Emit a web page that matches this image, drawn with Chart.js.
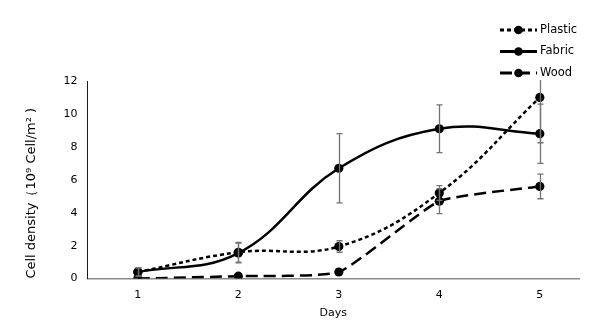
<!DOCTYPE html>
<html>
<head>
<meta charset="utf-8">
<script src="https://cdn.jsdelivr.net/npm/chart.js@4.4.1/dist/chart.umd.min.js"></script>
<style>
  html, body { margin: 0; padding: 0; background: #fff; }
  #wrap { width: 605px; height: 331px; }
</style>
</head>
<body>
<div id="wrap"><canvas id="chart"></canvas></div>
<script>
// values
const days = [1, 2, 3, 4, 5];
const dayLabels = ['1', '2', '3', '4', '5'];
const plastic = [0.4, 1.6, 1.95, 5.2, 11.0];
const fabric = [0.4, 1.55, 6.7, 9.1, 8.8];
const wood = [0.0, 0.15, 0.4, 4.7, 5.6];
// +/- error for each point
const plasticErr = [0.25, 0.6, 0.35, 0.45, 2.75];
const fabricErr = [0.25, 0.6, 2.1, 1.45, 1.8];
const woodErr = [0, 0, 0, 0.75, 0.75];
const yTicks = [0, 2, 4, 6, 8, 10, 12];

const FONT = 'DejaVu Sans, Verdana, sans-serif';

function toPoints(values) {
    return days.map((d, i) => ({ x: d, y: values[i] }));
}

// error bars drawn through the scales
const errorBars = {
    id: 'errorBars',
    afterDatasetsDraw(chart) {
        const ctx = chart.ctx;
        const x = chart.scales.x, y = chart.scales.y;
        const area = chart.chartArea;
        ctx.save();
        ctx.beginPath();
        ctx.rect(area.left, area.top - 1, area.right - area.left, area.bottom - area.top + 2);
        ctx.clip();
        ctx.strokeStyle = '#737373';
        ctx.lineWidth = 1.3;
        chart.data.datasets.forEach(ds => {
            ds.errors.forEach((e, i) => {
                if (!e) return;
                const px = Math.round(x.getPixelForValue(ds.data[i].x)) + 0.5;
                const top = y.getPixelForValue(ds.data[i].y + e);
                const bot = y.getPixelForValue(ds.data[i].y - e);
                ctx.beginPath();
                ctx.moveTo(px, top); ctx.lineTo(px, bot);
                ctx.moveTo(px - 3, top); ctx.lineTo(px + 3, top);
                ctx.moveTo(px - 3, bot); ctx.lineTo(px + 3, bot);
                ctx.stroke();
            });
        });
        ctx.restore();
    }
};

// legend: line sample with a marker in the middle
const lineLegend = {
    id: 'lineLegend',
    afterDraw(chart) {
        const ctx = chart.ctx;
        ctx.save();
        chart.data.datasets.forEach((ds, i) => {
            const yy = 30 + i * 21.5;
            const x0 = 500, x1 = 537;
            ctx.strokeStyle = '#000';
            ctx.lineWidth = 2.8;
            ctx.setLineDash(ds.borderDash || []);
            ctx.beginPath();
            ctx.moveTo(x0, yy); ctx.lineTo(x1, yy);
            ctx.stroke();
            ctx.setLineDash([]);
            ctx.fillStyle = '#000';
            ctx.beginPath();
            ctx.arc((x0 + x1) / 2, yy, 4.3, 0, Math.PI * 2);
            ctx.fill();
            ctx.font = '11.5px ' + FONT;
            ctx.textBaseline = 'middle';
            ctx.fillText(ds.label, 540, yy);
        });
        ctx.restore();
    }
};

const common = {
    borderColor: '#000',
    backgroundColor: '#000',
    pointBackgroundColor: '#000',
    pointBorderColor: '#000',
    pointBorderWidth: 0,
    pointRadius: 4.6,
    pointHoverRadius: 4.6,
    borderWidth: 2.5,
    tension: 0.4,
    fill: false
};

new Chart(document.getElementById('chart'), {
    type: 'line',
    data: {
        datasets: [
            Object.assign({}, common, { label: 'Plastic', data: toPoints(plastic), errors: plasticErr, borderDash: [4, 3] }),
            Object.assign({}, common, { label: 'Fabric', data: toPoints(fabric), errors: fabricErr }),
            Object.assign({}, common, { label: 'Wood', data: toPoints(wood), errors: woodErr, borderDash: [12, 6], tension: 0.15 })
        ]
    },
    options: {
        responsive: true,
        maintainAspectRatio: false,
        animation: false,
        layout: { padding: { top: 81, right: 26, left: 24, bottom: 11 } },
        plugins: {
            legend: { display: false },
            tooltip: { enabled: false }
        },
        scales: {
            x: {
                type: 'linear',
                min: 0.5,
                max: 5.39,
                afterBuildTicks(scale) { scale.ticks = days.map(v => ({ value: v })); },
                grid: { display: false, drawTicks: false },
                border: { color: '#8c8c8c', width: 1.5 },
                ticks: {
                    color: '#000',
                    font: { family: FONT, size: 11 },
                    padding: 10,
                    callback: (v) => dayLabels[days.indexOf(v)]
                },
                title: {
                    display: true,
                    text: 'Days',
                    color: '#000',
                    font: { family: FONT, size: 11 },
                    padding: { top: -5, bottom: 0 }
                }
            },
            y: {
                min: 0,
                max: 12,
                afterBuildTicks(scale) { scale.ticks = yTicks.map(v => ({ value: v })); },
                grid: { display: false, drawTicks: false },
                border: { color: '#1a1a1a', width: 1 },
                ticks: {
                    color: '#000',
                    font: { family: FONT, size: 11 },
                    padding: 10
                },
                title: {
                    display: true,
                    align: 'start',
                    text: 'Cell density（10⁹ Cell/m² )',
                    color: '#000',
                    font: { family: FONT, size: 13 },
                    padding: { top: 0, bottom: 14 }
                }
            }
        }
    },
    plugins: [errorBars, lineLegend]
});
</script>
</body>
</html>
